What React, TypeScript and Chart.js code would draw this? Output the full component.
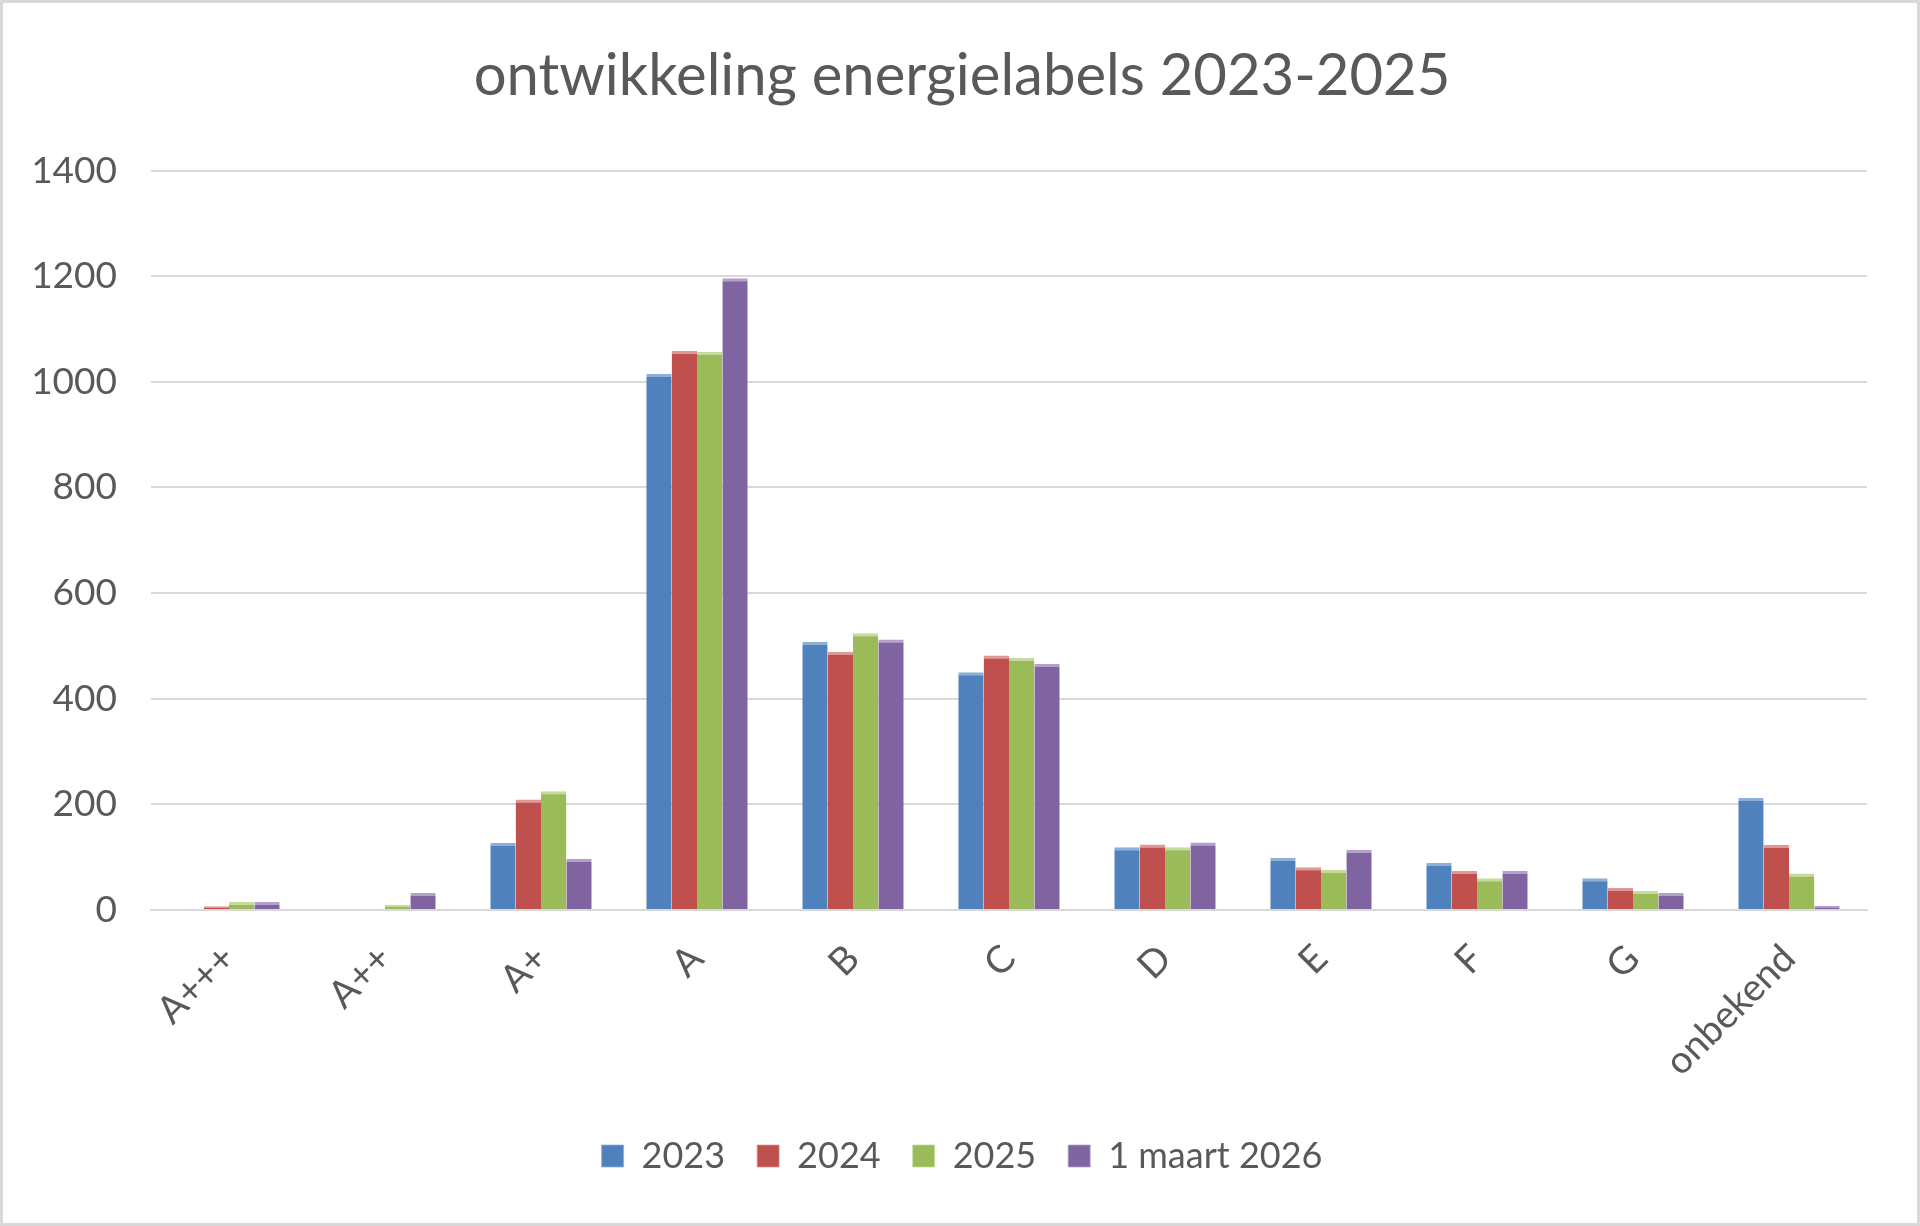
import React, { useEffect, useRef } from "react";
import { Chart, registerables } from "chart.js";

Chart.register(...registerables);

const labels = ["A+++", "A++", "A+", "A", "B", "C", "D", "E", "F", "G", "onbekend"];
const seriesNames = ["2023", "2024", "2025", "1 maart 2026"];
const values2023 = [0, 0, 127, 1015, 508, 450, 119, 99, 89, 60, 212];
const values2024 = [7, 0, 209, 1059, 489, 482, 124, 81, 74, 42, 123];
const values2025 = [15, 10, 225, 1057, 524, 477, 119, 76, 60, 36, 69];
const values2026 = [15, 32, 97, 1196, 512, 466, 128, 114, 74, 32, 8];
const yTicks = [0, 200, 400, 600, 800, 1000, 1200, 1400];

const fills = ["#4F81BD", "#C0504D", "#9BBB59", "#8064A2"];
const tops = ["#8DB0DA", "#E09896", "#C6DA9E", "#B3A0CB"];

const FONT = "Lato, 'Liberation Sans', sans-serif";
const TEXT = "#595959";

// let the y labels draw left of the padded box so the title stays centred
const widenYAxis = {
  id: "widenYAxis",
  afterLayout(chart: any) {
    chart.scales.y.left = 10;
  },
};

const App = () => {
  const canvasRef = useRef<HTMLCanvasElement>(null);

  useEffect(() => {
    const ctx = canvasRef.current!.getContext("2d")!;
    const all = [values2023, values2024, values2025, values2026];

    const chart = new Chart(ctx, {
      type: "bar",
      data: {
        labels: labels,
        datasets: all.map((d, i) => ({
          label: seriesNames[i],
          data: d,
          backgroundColor: fills[i],
          borderColor: tops[i],
          borderWidth: { top: 3, left: 0, right: 0, bottom: 0 },
          borderSkipped: false,
          barPercentage: 1,
          categoryPercentage: 0.65,
        })),
      },
      options: {
        animation: false,
        responsive: false,
        maintainAspectRatio: false,
        layout: { padding: { left: 54, right: 50, top: 0, bottom: 39 } },
        plugins: {
          title: {
            display: true,
            text: "ontwikkeling energielabels 2023-2025",
            color: TEXT,
            font: { family: FONT, size: 58, weight: "normal" },
            padding: { top: 38, bottom: 60 },
          },
          legend: {
            position: "bottom",
            labels: {
              color: TEXT,
              font: { family: FONT, size: 36 },
              boxWidth: 22,
              boxHeight: 22,
              padding: 32,
            },
          },
          tooltip: { enabled: false },
        },
        scales: {
          x: {
            grid: { display: false, drawTicks: false },
            border: { display: true, color: "#D9D9D9", width: 2 },
            ticks: {
              color: TEXT,
              font: { family: FONT, size: 38 },
              minRotation: 45,
              maxRotation: 45,
              padding: 26,
              labelOffset: 0,
            },
            afterFit: (scale: any) => {
              scale.height = 196;
            },
          },
          y: {
            min: 0,
            max: 1400,
            afterBuildTicks: (scale: any) => {
              scale.ticks = yTicks.map((v) => ({ value: v }));
            },
            afterFit: (scale: any) => {
              scale.width = 94;
            },
            grid: { color: "#D9D9D9", lineWidth: 2, drawTicks: false },
            border: { display: false },
            ticks: {
              color: TEXT,
              font: { family: FONT, size: 37 },
              padding: 34,
              callback: (v: any) => String(v),
            },
          },
        },
      },
      plugins: [widenYAxis],
    } as any);

    return () => {
      chart.destroy();
    };
  }, []);

  return (
    <div
      style={{
        position: "absolute",
        top: 0,
        left: 0,
        width: 1920,
        height: 1226,
        boxSizing: "border-box",
        border: "3px solid #D9D9D9",
        background: "#fff",
      }}
    >
      <canvas ref={canvasRef} width={1914} height={1220} style={{ display: "block" }} />
    </div>
  );
};

export default App;
